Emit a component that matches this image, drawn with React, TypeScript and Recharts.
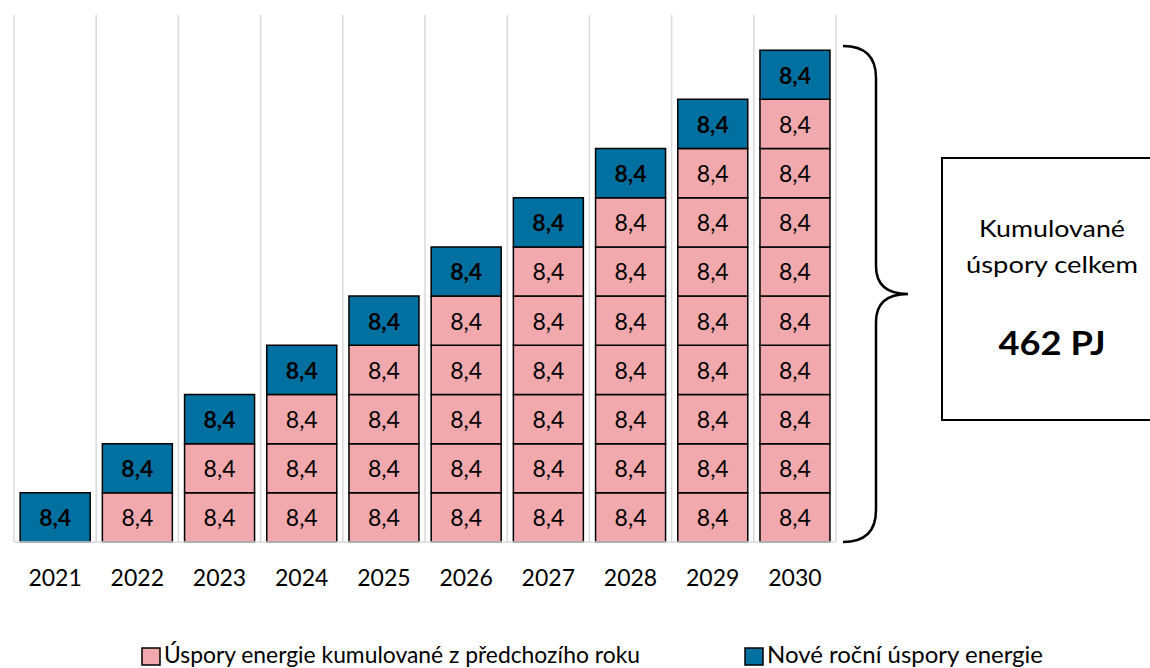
import { Bar, BarChart, CartesianGrid, Cell, LabelList, XAxis, YAxis } from "recharts";

const years = ["2021", "2022", "2023", "2024", "2025", "2026", "2027", "2028", "2029", "2030"];
// nové roční úspory (PJ) – každá se přenáší do všech dalších let
const newSavings = [8.4, 8.4, 8.4, 8.4, 8.4, 8.4, 8.4, 8.4, 8.4, 8.4];
const legendLabels = ["Úspory energie kumulované z předchozího roku", "Nové roční úspory energie"];
const boxLines = ["Kumulované", "úspory celkem"];
const totalLabel = "462 PJ";

const PINK = "#F2A9AD";
const BLUE = "#0070A0";
const FONT = "Lato, 'Noto Sans', sans-serif";

const layers = newSavings.map((_, k) => `y${k}`);

const data = years.map((year, i) => {
  const row: Record<string, string | number | null> = { year };
  newSavings.forEach((v, k) => {
    row[`y${k}`] = k <= i ? v : null;
  });
  return row;
});

const fmt = (v: number) => v.toFixed(1).replace(".", ",");

// label value: "8,4" for carried blocks, "8,4*" for the block added that year
const labelValue = (k: number) => (row: any) => {
  const v = row[`y${k}`];
  if (v == null) return null;
  return row.year === years[k] ? `${fmt(v)}*` : fmt(v);
};

const blockLabel = (props: any) => {
  const { value } = props;
  if (value == null) return null;
  const vb = props.viewBox ?? props;
  const cx = vb.x + vb.width / 2;
  const cy = vb.y + vb.height / 2;
  const s = String(value);
  const isNew = s.endsWith("*");
  return (
    <text
      x={cx}
      y={cy}
      textAnchor="middle"
      dominantBaseline="central"
      fontFamily={FONT}
      fontSize={23}
      fontWeight={isNew ? 700 : 400}
      fill="#000"
    >
      {s.replace("*", "")}
    </text>
  );
};

export default function App() {
  return (
    <div style={{ position: "absolute", left: 0, top: 0, width: 1150, height: 668, background: "#fff", fontFamily: FONT, overflow: "hidden" }}>
      <BarChart
        width={1150}
        height={668}
        data={data}
        margin={{ top: 15, right: 314, left: 14, bottom: 86 }}
        barCategoryGap="7.5%"
      >
        <CartesianGrid
          horizontal={false}
          stroke="#D9D9D9"
          strokeWidth={1.5}
          verticalCoordinatesGenerator={({ offset }: any) =>
            years.map((_, i) => offset.left + (i * offset.width) / years.length).concat(offset.left + offset.width)
          }
        />
        <XAxis
          dataKey="year"
          height={40}
          axisLine={{ stroke: "#D9D9D9", strokeWidth: 1.5 }}
          tickLine={false}
          tickMargin={22}
          tick={{ fill: "#000", fontSize: 23, fontFamily: FONT }}
        />
        <YAxis hide domain={[0, 90]} />
        {layers.map((key, k) => (
          <Bar key={key} dataKey={key} stackId="a" stroke="#000" strokeWidth={1.5} isAnimationActive={false}>
            {data.map((_, i) => (
              <Cell key={i} fill={i === k ? BLUE : PINK} />
            ))}
            <LabelList dataKey={labelValue(k)} content={blockLabel} />
          </Bar>
        ))}
      </BarChart>

      <svg width={1150} height={668} style={{ position: "absolute", left: 0, top: 0, pointerEvents: "none" }}>
        <path
          d="M843,46 Q876,46 876,78 L876,266 Q876,294 908,294 Q876,294 876,322 L876,510 Q876,542 843,542"
          fill="none"
          stroke="#000"
          strokeWidth={2.5}
        />
        <rect x={942} y={158} width={240} height={262} fill="#fff" stroke="#000" strokeWidth={2} />
        <text x={1052} y={237} textAnchor="middle" fontFamily={FONT} fontSize={24}
          textLength={146} lengthAdjust="spacingAndGlyphs">
          {boxLines[0]}
        </text>
        <text x={1052} y={273} textAnchor="middle" fontFamily={FONT} fontSize={24}
          textLength={172} lengthAdjust="spacingAndGlyphs">
          {boxLines[1]}
        </text>
        <text x={1052} y={355} textAnchor="middle" fontFamily={FONT} fontSize={33} fontWeight={700}
          textLength={107} lengthAdjust="spacingAndGlyphs">
          {totalLabel}
        </text>

        <rect x={142} y={648} width={18} height={17} fill={PINK} stroke="#000" strokeWidth={1.5} />
        <text x={164} y={663} fontFamily={FONT} fontSize={23}
          textLength={476} lengthAdjust="spacingAndGlyphs">
          {legendLabels[0]}
        </text>
        <rect x={745} y={648} width={18} height={17} fill={BLUE} stroke="#000" strokeWidth={1.5} />
        <text x={767} y={663} fontFamily={FONT} fontSize={23}
          textLength={276} lengthAdjust="spacingAndGlyphs">
          {legendLabels[1]}
        </text>
      </svg>
    </div>
  );
}
